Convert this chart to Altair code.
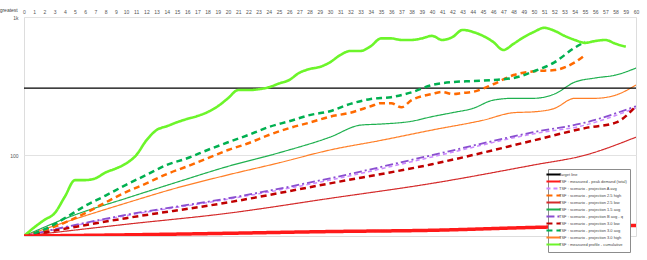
import altair as alt
import pandas as pd

# ---- data ----
series_names = [
    "Target line",
    "TSF : measured - peak demand (total)",
    "TSF : scenario - projection A avg",
    "TSF : scenario - projection 2.5 high",
    "TSF : scenario - projection 2.5 low",
    "TSF : scenario - projection 1.5 avg",
    "TSF : scenario - projection B avg - q",
    "TSF : scenario - projection 3.0 low",
    "TSF : scenario - projection 3.0 avg",
    "TSF : scenario - projection 3.0 high",
    "TSF : measured profile - cumulative",
]
series_colors = ["#000000", "#ff1a1a", "#cc88ff", "#ff6a00", "#d42b2b", "#1fb04f",
                 "#8a4fd0", "#c00000", "#00b050", "#ff7f27", "#6cf52a"]
series_dash = [[1, 0], [1, 0], [4, 3], [6, 4], [1, 0], [1, 0],
               [8, 3, 2, 3], [6, 4], [6, 4], [1, 0], [1, 0]]
series_width = [1.3, 3.5, 1.5, 2.5, 1.2, 1.2, 1.8, 2.5, 2.5, 1.2, 2.6]

x_ticks = list(range(0, 61))
y_ticks = [100, 1000]

s1_days = [0, 60]
s1_vals = [306, 306]

s2_days = [0, 10, 20, 30, 40, 50, 60]
s2_vals = [26, 26.5, 27.2, 28, 28.6, 30, 31]

s3_days = [0, 10, 20, 30, 40, 50, 55, 60]
s3_vals = [26, 36.5, 48, 66, 97, 143, 165, 220]

s4_days = [0, 2, 4, 6, 8, 10, 12, 14, 16, 18, 20, 22, 24, 26, 28, 30, 32, 34, 35, 36, 37,
           38, 40, 41, 42, 43, 44, 46, 48, 50, 52, 54, 55]
s4_vals = [26, 28.6, 32.5, 38, 45.5, 54, 62.5, 73, 83, 95, 109, 122, 140, 157, 172, 190, 203,
           226, 238, 238, 222, 250, 277, 287, 277, 282, 287, 326, 380, 405, 413, 470, 530]

s5_days = [0, 10, 20, 30, 40, 50, 55, 60]
s5_vals = [26, 31.6, 38, 48.7, 62.5, 85, 100, 135]

s6_days = [0, 5, 10, 15, 20, 25, 30, 33, 35, 38, 40, 42, 44, 46, 48, 50, 52, 54, 56, 58, 60]
s6_vals = [26, 37, 48.7, 63.8, 83, 104, 135, 165, 168, 176, 190, 203, 218, 250, 258, 258,
           277, 338, 362, 380, 427]

s7_days = [0, 10, 20, 30, 40, 50, 55, 60]
s7_vals = [26, 37, 48.7, 68, 100, 147, 172, 226]

s8_days = [0, 10, 20, 30, 40, 50, 55, 58, 60]
s8_vals = [26, 35, 45.5, 62.5, 86, 128, 157, 172, 226]

s9_days = [0, 2, 4, 6, 8, 10, 12, 14, 16, 18, 20, 22, 24, 26, 28, 30, 32, 34, 36, 38, 40,
           42, 44, 46, 48, 50, 52, 54, 55]
s9_vals = [26, 29, 35, 43, 51, 61, 72, 85, 95, 109, 124, 140, 160, 176, 195, 208, 235, 255,
           263, 285, 322, 338, 344, 350, 362, 405, 470, 600, 660]

s10_days = [0, 5, 10, 15, 20, 25, 30, 35, 40, 45, 48, 50, 52, 54, 56, 58, 60]
s10_vals = [26, 34.5, 45, 58, 72, 88, 109, 128, 152, 179, 203, 206, 218, 258, 258, 272, 322]

s11_days = list(range(0, 60))
s11_vals = [26, 30, 34, 38, 50, 66, 66, 68, 75, 80, 87, 100, 128, 152, 162, 173, 183, 192,
            205, 226, 258, 296, 296, 300, 310, 330, 350, 395, 420, 435, 470, 530, 568, 568,
            615, 700, 700, 682, 682, 700, 730, 682, 715, 806, 780, 730, 660, 577, 640, 715,
            780, 835, 795, 730, 682, 650, 670, 682, 640, 610]

all_days = [s1_days, s2_days, s3_days, s4_days, s5_days, s6_days,
            s7_days, s8_days, s9_days, s10_days, s11_days]
all_vals = [s1_vals, s2_vals, s3_vals, s4_vals, s5_vals, s6_vals,
            s7_vals, s8_vals, s9_vals, s10_vals, s11_vals]

rows = []
for name, days, vals in zip(series_names, all_days, all_vals):
    for d, v in zip(days, vals):
        rows.append({"series": name, "day": d, "value": v})
df = pd.DataFrame(rows)

legend = alt.Legend(
    orient="none", legendX=524, legendY=152, title=None,
    fillColor="white", strokeColor="#8c8c8c", padding=3,
    rowPadding=-2, labelFontSize=4, symbolType="M-4.7,0H4.7", symbolSize=9,
    symbolStrokeWidth=2, labelColor="#444444", labelLimit=200, labelOffset=3, offset=0,
)

base = alt.Chart(df).encode(
    x=alt.X("day:Q", scale=alt.Scale(domain=[0, 60], nice=False),
            axis=alt.Axis(orient="top", values=x_ticks, title=None, grid=False,
                          domain=False, ticks=False, labelFontSize=5,
                          labelColor="#555555", labelPadding=3, labelFlush=False)),
    y=alt.Y("value:Q", scale=alt.Scale(type="log", domain=[26, 1000], nice=False),
            axis=alt.Axis(values=y_ticks, format="~s", title=None, domain=False, ticks=False,
                          labelFontSize=5, labelColor="#555555", labelPadding=6,
                          grid=True, gridColor="#e2e2e2")),
    color=alt.Color("series:N", sort=series_names,
                    scale=alt.Scale(domain=series_names, range=series_colors), legend=legend),
    strokeDash=alt.StrokeDash("series:N", sort=series_names,
                              scale=alt.Scale(domain=series_names, range=series_dash),
                              legend=legend),
)

layers = []
for w in sorted(set(series_width)):
    group = [n for n, sw in zip(series_names, series_width) if sw == w]
    layers.append(
        base.transform_filter(alt.FieldOneOfPredicate(field="series", oneOf=group))
        .mark_line(interpolate="monotone", clip=True, strokeWidth=w)
    )

chart = alt.layer(*layers).properties(
    width=612, height=219,
    autosize=alt.AutoSizeParams(type="none"),
    padding={"left": 24, "top": 17, "right": 11, "bottom": 24},
    title=alt.Title("greatest", anchor="start", fontSize=5, fontWeight="normal",
                    color="#444444", offset=2, dx=-10, dy=6),
).configure_view(
    fill="#f2f2f2", stroke=None
).configure(background="white")

chart.save("out.html", embed_options={"renderer": "svg", "actions": False})
